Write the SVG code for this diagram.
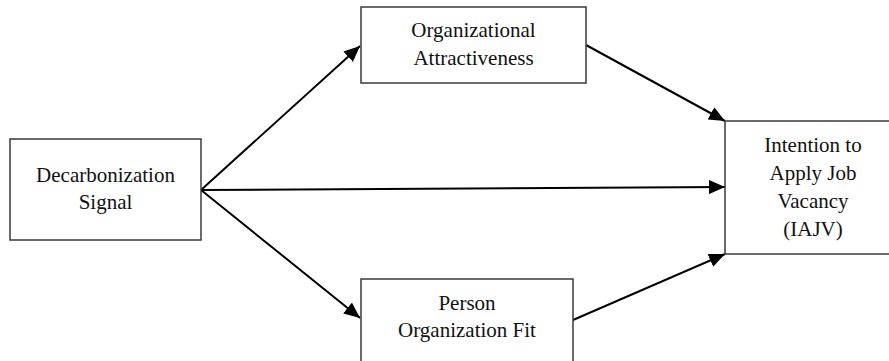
<svg xmlns="http://www.w3.org/2000/svg" width="889" height="361" viewBox="0 0 889 361">
<style>
  .box { fill: #fff; stroke: #3a3a3a; stroke-width: 1.5; }
  .lbl { font-family: "Liberation Serif", "Times New Roman", serif; font-size: 21px; fill: #111; text-anchor: middle; }
  .conn { stroke: #000; stroke-width: 2; fill: none; marker-end: url(#arr); }
</style>
<defs>
  <marker id="arr" markerUnits="userSpaceOnUse" markerWidth="18" markerHeight="14" refX="16" refY="7" orient="auto">
    <path d="M0,0 L16,7 L0,14 Z" fill="#000"/>
  </marker>
</defs>
<rect width="889" height="361" fill="#fff"/>
<g id="connectors">
  <line class="conn" x1="201" y1="190" x2="360" y2="46"/>
  <line class="conn" x1="201" y1="190" x2="725" y2="187"/>
  <line class="conn" x1="201" y1="190" x2="360" y2="318"/>
  <line class="conn" x1="586" y1="45" x2="725" y2="121"/>
  <line class="conn" x1="573" y1="320" x2="725" y2="254"/>
</g>
<g id="decarbonization">
  <rect class="box" x="10" y="139" width="191" height="101"/>
  <text class="lbl" x="105.5" y="182">Decarbonization</text>
  <text class="lbl" x="105.5" y="209">Signal</text>
</g>
<g id="attractiveness">
  <rect class="box" x="361" y="7" width="225" height="76"/>
  <text class="lbl" x="473.5" y="37">Organizational</text>
  <text class="lbl" x="473.5" y="65">Attractiveness</text>
</g>
<g id="pofit">
  <rect class="box" x="361" y="279" width="212" height="90"/>
  <text class="lbl" x="467" y="310">Person</text>
  <text class="lbl" x="467" y="337">Organization Fit</text>
</g>
<g id="iajv">
  <rect class="box" x="725" y="121" width="170" height="133"/>
  <text class="lbl" x="813" y="152">Intention to</text>
  <text class="lbl" x="813" y="180">Apply Job</text>
  <text class="lbl" x="813" y="208">Vacancy</text>
  <text class="lbl" x="813" y="236">(IAJV)</text>
</g>
</svg>
